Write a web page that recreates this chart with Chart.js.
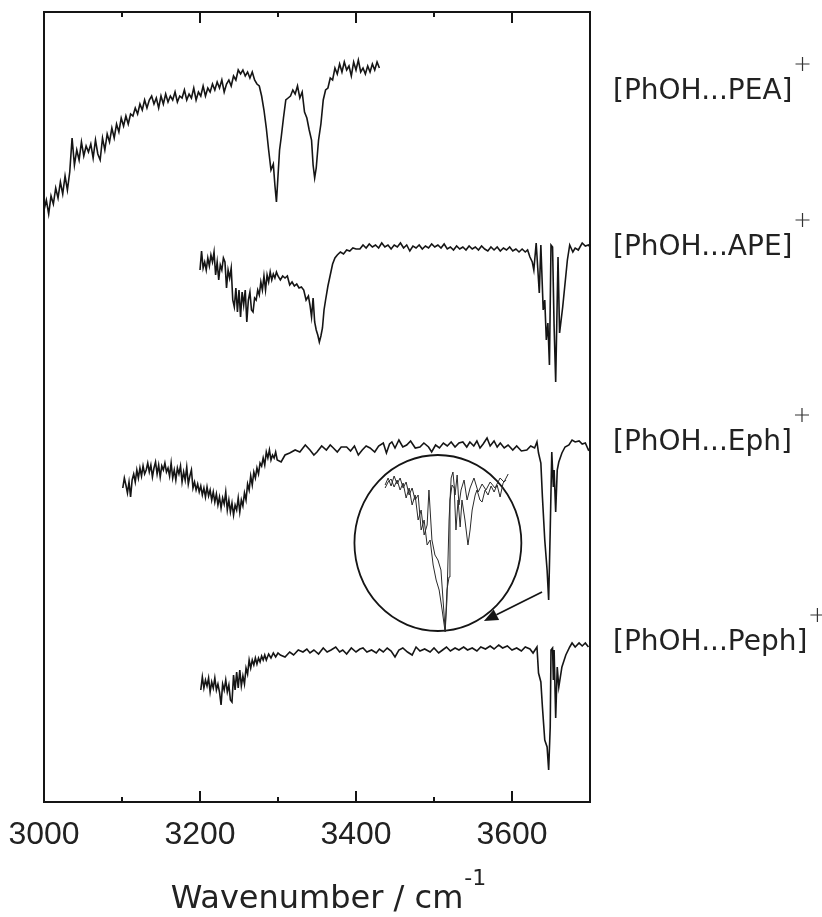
<!DOCTYPE html>
<html>
<head>
<meta charset="utf-8">
<script src="https://cdn.jsdelivr.net/npm/chart.js@4.4.1/dist/chart.umd.min.js"></script>
<style>
  html, body { margin: 0; padding: 0; background: #fff; }
  #wrap { position: relative; width: 822px; height: 917px; }
  #spectra { position: absolute; left: 0; top: 0; }
  #inset { position: absolute; left: 380px; top: 470px; }
</style>
</head>
<body>
<div id="wrap">
  <canvas id="spectra" width="822" height="917"></canvas>
  <canvas id="inset" width="130" height="165"></canvas>
</div>
<script>
// wavenumbers (cm-1) and offset signal (a.u.)
const peaWave = [3000,3003,3006,3009,3012,3015,3018,3021,3024,3027,3030,3033,3036,3039,3042,3045,3048,3051,3054,3057,3060,3063,3066,3069,3072,3075,3078,3081,3084,3087,3090,3093,3096,3099,3102,3105,3108,3111,3114,3117,3120,3123,3126,3129,3132,3135,3138,3141,3144,3147,3150,3153,3156,3159,3162,3165,3168,3171,3174,3177,3180,3183,3186,3189,3192,3195,3198,3201,3204,3207,3210,3213,3216,3219,3222,3225,3228,3231,3234,3237,3240,3243,3246,3249,3252,3255,3258,3261,3264,3267,3270,3273,3276,3279,3282,3285,3288,3291,3294,3296,3298,3300,3302,3304,3307,3310,3313,3316,3319,3322,3325,3328,3331,3334,3337,3340,3343,3345,3347,3349,3352,3355,3358,3361,3364,3367,3370,3373,3376,3379,3382,3385,3388,3391,3394,3397,3400,3403,3406,3409,3412,3415,3418,3421,3424,3427,3430];
const peaSignal = [59.2,60.2,58.8,60.6,59.8,61.4,60.4,62.0,60.8,62.6,61.2,63.0,66.4,63.7,65.2,64.2,66.0,64.6,65.6,65.0,65.8,64.4,66.2,64.8,64.2,66.4,65.2,66.8,66.0,67.4,66.4,67.8,67.0,68.4,67.6,68.6,67.8,68.8,68.6,69.4,68.8,69.8,69.2,70.2,69.4,70.2,70.6,69.8,70.4,69.4,70.6,69.8,70.8,70.0,70.6,70.2,71.0,70.0,70.6,70.4,71.2,70.2,70.8,70.4,71.4,70.2,71.0,70.6,71.6,70.6,71.4,71.0,71.8,71.2,72.0,71.4,72.2,71.0,71.8,72.2,71.6,72.6,72.2,73.2,72.8,73.2,72.6,73.0,72.4,73.0,72.2,71.8,71.6,70.6,69.2,67.4,65.2,63.2,63.8,61.7,60.0,62.6,65.2,66.4,68.4,70.2,70.4,70.6,71.2,70.8,71.6,70.4,71.0,69.0,68.4,67.2,66.2,63.7,62.4,63.4,66.2,67.8,70.2,71.2,71.4,72.4,72.2,73.4,72.8,73.8,73.0,74.0,73.2,73.6,72.6,74.0,73.2,74.2,73.0,73.4,72.8,73.6,73.0,73.8,73.2,74.0,73.4];

const apeWave = [3200,3202,3204,3206,3208,3210,3212,3214,3216,3218,3220,3222,3224,3226,3228,3230,3232,3234,3236,3238,3240,3242,3244,3246,3248,3250,3252,3254,3256,3258,3260,3262,3264,3266,3268,3270,3272,3274,3276,3278,3280,3282,3284,3286,3288,3290,3292,3294,3296,3298,3300,3303,3306,3309,3312,3315,3318,3321,3324,3327,3330,3333,3336,3339,3341,3343,3345,3347,3349,3351,3353,3355,3357,3359,3361,3364,3367,3370,3373,3376,3380,3384,3388,3392,3396,3400,3405,3409,3413,3417,3421,3425,3429,3433,3437,3441,3445,3449,3453,3457,3461,3465,3469,3473,3477,3481,3485,3489,3493,3497,3501,3505,3509,3513,3517,3521,3525,3529,3533,3537,3541,3545,3549,3553,3557,3561,3565,3569,3573,3577,3581,3585,3589,3593,3597,3601,3605,3609,3613,3617,3620,3623,3626,3628,3631,3633,3635,3637,3640,3642,3644,3646,3648,3650,3652,3654,3656,3659,3661,3665,3671,3674,3678,3681,3685,3690,3694,3698,3700];
const apeSignal = [53.2,55.1,53.4,54.0,53.2,54.4,53.6,54.7,54.0,55.0,52.7,54.0,52.2,53.7,53.2,54.4,54.0,51.4,53.2,52.4,53.4,50.2,49.5,51.4,49.0,51.2,48.5,51.0,49.7,51.2,48.0,50.2,51.0,49.2,49.0,50.4,50.2,51.2,50.7,52.0,51.2,52.6,51.2,52.7,52.0,53.0,52.2,52.8,52.4,53.0,52.6,52.2,52.6,52.4,52.6,51.7,52.0,51.6,51.8,51.4,51.5,51.2,50.2,50.6,49.7,48.5,50.4,48.0,47.2,46.7,46.0,46.6,47.4,49.2,50.2,51.6,52.7,53.8,54.4,54.7,55.0,54.8,55.2,55.1,55.4,55.3,55.3,55.7,55.4,55.8,55.5,55.7,55.4,55.9,55.5,55.7,55.3,55.7,55.5,55.9,55.4,55.7,55.1,55.6,55.4,55.7,55.3,55.6,55.4,55.8,55.5,55.7,55.4,55.8,55.3,55.5,55.2,55.6,55.3,55.5,55.2,55.6,55.3,55.5,55.2,55.6,55.3,55.1,55.5,55.2,55.5,55.1,55.4,55.2,55.5,55.1,55.3,55.0,55.3,55.0,55.2,54.5,54.0,53.2,55.9,53.4,50.9,55.7,49.2,50.2,46.2,47.9,43.7,55.7,55.5,47.5,42.0,54.5,46.9,49.5,54.2,55.7,55.0,55.4,55.2,55.9,55.6,55.7,55.5];

const ephWave = [3101,3103,3105,3107,3109,3111,3113,3115,3117,3119,3121,3123,3125,3127,3129,3131,3133,3135,3137,3139,3141,3143,3145,3147,3149,3151,3153,3155,3157,3159,3161,3163,3165,3167,3169,3171,3173,3175,3177,3179,3181,3183,3185,3187,3189,3191,3193,3195,3197,3199,3201,3203,3205,3207,3209,3211,3213,3215,3217,3219,3221,3223,3225,3227,3229,3231,3233,3235,3237,3239,3241,3243,3245,3247,3249,3251,3253,3255,3257,3259,3261,3263,3265,3267,3269,3271,3273,3275,3277,3279,3281,3283,3285,3287,3289,3291,3293,3295,3297,3299,3304,3309,3315,3322,3328,3335,3341,3346,3350,3356,3362,3367,3371,3376,3381,3388,3393,3398,3403,3408,3413,3418,3424,3429,3435,3439,3443,3446,3450,3455,3460,3465,3470,3476,3482,3487,3493,3497,3502,3507,3512,3517,3522,3527,3532,3537,3542,3546,3551,3555,3559,3563,3568,3572,3577,3581,3585,3590,3595,3601,3606,3612,3619,3624,3629,3632,3634,3637,3639,3642,3645,3647,3649,3651,3653,3654,3656,3658,3660,3664,3668,3673,3677,3681,3686,3690,3694,3698,3700];
const ephSignal = [31.4,32.4,31.7,30.9,32.0,30.5,32.2,32.8,32.0,33.2,32.4,33.4,32.6,33.6,32.8,33.2,33.9,33.0,33.7,32.5,33.4,34.0,32.8,33.7,32.5,33.6,33.2,33.9,33.0,33.4,32.6,33.9,32.4,33.2,32.2,33.4,32.8,33.6,32.0,33.0,32.2,33.5,31.8,32.6,33.2,31.4,32.0,31.2,31.8,31.0,31.6,30.7,31.4,30.5,31.5,30.6,31.2,30.2,31.0,30.0,30.8,29.7,30.5,29.4,30.4,29.8,31.0,29.2,30.2,29.0,29.9,28.7,29.7,29.2,30.4,29.0,30.2,29.6,30.9,30.2,31.8,31.2,32.6,31.7,33.0,32.4,33.4,32.8,33.9,33.6,34.4,33.7,35.0,34.4,35.2,34.2,34.7,34.4,35.0,34.2,34.0,34.7,34.9,35.2,35.0,35.7,35.2,34.7,35.0,35.6,35.2,35.7,35.4,35.0,35.5,35.5,35.1,35.6,34.7,35.2,35.6,35.4,35.0,35.6,35.9,34.9,35.8,36.0,35.4,36.2,35.5,35.7,36.1,35.4,35.5,35.9,35.5,35.0,35.7,35.4,35.9,35.6,36.0,35.5,35.9,36.0,35.5,36.0,35.6,36.1,35.4,35.8,36.4,35.6,36.1,35.5,35.9,35.4,35.7,35.2,35.6,35.1,35.2,35.6,35.4,36.0,34.9,33.9,30.5,26.2,23.2,20.2,27.2,35.0,31.5,33.2,29.0,33.2,34.0,34.9,35.5,35.7,36.2,36.0,36.1,35.8,35.9,35.2,35.3];

const pephWave = [3201,3203,3205,3207,3209,3211,3213,3215,3217,3219,3221,3223,3225,3227,3229,3231,3233,3235,3237,3239,3241,3243,3245,3247,3249,3251,3253,3255,3257,3259,3261,3263,3265,3267,3269,3271,3273,3275,3277,3279,3281,3283,3285,3288,3291,3294,3297,3300,3303,3309,3315,3320,3326,3332,3337,3341,3346,3352,3358,3363,3368,3374,3379,3383,3388,3394,3400,3405,3409,3414,3420,3426,3430,3435,3440,3445,3450,3455,3460,3466,3472,3477,3482,3488,3495,3500,3506,3511,3516,3521,3527,3532,3538,3543,3549,3555,3560,3566,3572,3577,3583,3588,3594,3600,3606,3612,3617,3623,3627,3632,3634,3637,3639,3642,3645,3647,3649,3650,3652,3653,3654,3656,3658,3660,3664,3669,3674,3677,3681,3686,3690,3694,3698];
const pephSignal = [11.2,12.5,11.4,12.2,11.6,12.4,11.0,12.0,11.4,12.4,11.2,11.8,11.0,9.7,11.8,11.2,12.2,11.0,11.7,10.2,10.0,12.7,11.2,13.0,11.4,13.2,11.6,12.6,11.8,13.4,12.8,14.2,13.4,14.2,13.7,14.4,13.8,14.4,14.0,14.6,14.2,14.7,14.2,14.8,14.4,14.9,14.5,14.9,14.7,14.5,15.0,14.7,15.2,15.0,15.3,14.9,15.2,14.8,15.4,15.0,15.2,15.5,15.0,15.2,14.8,15.4,15.0,15.3,15.4,15.0,15.2,14.9,15.3,15.0,15.4,15.1,14.5,15.2,15.4,15.0,14.7,15.5,15.1,15.3,15.0,15.4,14.9,15.2,15.5,15.1,15.4,15.2,15.5,15.2,15.4,15.1,15.5,15.3,15.6,15.3,15.7,15.4,15.6,15.2,15.4,15.1,15.5,15.3,14.9,15.5,12.9,12.0,9.5,6.2,5.5,3.2,7.5,15.2,15.4,12.2,15.2,8.4,13.5,11.5,13.5,14.7,15.5,15.9,15.5,15.9,15.6,15.9,15.5];

// magnified view of the free OH band (two overlaid traces)
const insetWaveA = [3631.7,3632.7,3633.7,3634.7,3635.7,3636.7,3637.7,3638.7,3639.7,3640.7,3641.7,3642.7,3643.7,3644.7,3645.7,3646.7,3647.7,3648.7,3649.7,3650.7,3651.7,3652.3,3653.0,3653.7,3654.3,3655.0,3655.7,3656.3,3657.0,3658.0,3659.0,3660.0,3661.3,3662.7,3664.0,3665.3,3666.7,3668.3,3670.0,3671.3,3672.7];
const insetSignalA = [150,157,149,159,151,157,147,153,140,147,135,140,105,115,90,95,70,55,45,25,3,35,115,157,163,140,160,130,145,155,135,147,157,143,151,145,153,147,157,153,161];
const insetWaveB = [3631.7,3632.7,3633.7,3634.7,3635.7,3636.7,3637.7,3638.7,3639.7,3640.7,3641.7,3642.7,3643.7,3644.7,3645.7,3646.3,3647.3,3648.3,3649.3,3650.3,3651.0,3651.7,3652.3,3653.0,3653.3,3654.0,3654.7,3655.3,3656.0,3656.7,3657.3,3658.3,3659.3,3660.0,3660.7,3661.7,3662.3,3663.3,3664.0,3665.0,3666.0,3667.0,3668.0,3669.0,3670.0,3671.0,3672.0];
const insetSignalB = [147,153,156,148,155,145,152,137,147,130,140,115,125,100,110,145,95,80,75,65,35,5,45,58,135,150,147,105,135,108,135,115,90,105,125,140,145,135,133,145,140,149,143,150,138,152,155];

const seriesLabels = ['[PhOH...PEA]', '[PhOH...APE]', '[PhOH...Eph]', '[PhOH...Peph]'];
const labelLevels = [70.3, 54.7, 35.2, 15.2];
const majorTicks = [3200, 3400, 3600];
const minorTicks = [3100, 3300, 3500];

// circle round the magnified region and the arrow pointing to the band
const circleCentre = { x: 3505, y: 25.9, rx: 107, ry: 8.8 };
const arrowFrom = { x: 3638.5, y: 21.0 };
const arrowTo = { x: 3564, y: 18.1 };

const ink = '#151515';
const toPoints = (xs, ys) => xs.map((x, i) => ({ x: x, y: ys[i] }));

function trace(xs, ys) {
  return {
    data: toPoints(xs, ys),
    borderColor: ink,
    borderWidth: 1.6,
    pointRadius: 0,
    tension: 0,
    fill: false
  };
}

const framePlugin = {
  id: 'frame',
  afterDraw(chart) {
    const { ctx, chartArea: a, scales: { x, y } } = chart;
    ctx.save();
    ctx.strokeStyle = ink;
    ctx.lineWidth = 2;
    ctx.strokeRect(a.left, a.top, a.right - a.left, a.bottom - a.top);

    // inward ticks on top and bottom
    const tick = (v, len) => {
      const px = Math.round(x.getPixelForValue(v));
      ctx.beginPath();
      ctx.moveTo(px, a.bottom); ctx.lineTo(px, a.bottom - len);
      ctx.moveTo(px, a.top); ctx.lineTo(px, a.top + len);
      ctx.stroke();
    };
    majorTicks.forEach(v => tick(v, 11));
    minorTicks.forEach(v => tick(v, 5));

    // circle
    const cx = x.getPixelForValue(circleCentre.x);
    const cy = y.getPixelForValue(circleCentre.y);
    const rx = x.getPixelForValue(circleCentre.x + circleCentre.rx) - cx;
    const ry = y.getPixelForValue(circleCentre.y - circleCentre.ry) - cy;
    ctx.lineWidth = 1.8;
    ctx.beginPath();
    ctx.ellipse(cx, cy, rx, ry, 0, 0, Math.PI * 2);
    ctx.stroke();

    // arrow
    const x0 = x.getPixelForValue(arrowFrom.x), y0 = y.getPixelForValue(arrowFrom.y);
    const x1 = x.getPixelForValue(arrowTo.x), y1 = y.getPixelForValue(arrowTo.y);
    const ang = Math.atan2(y1 - y0, x1 - x0);
    const headLen = 14, headW = 6;
    const bx = x1 - headLen * Math.cos(ang), by = y1 - headLen * Math.sin(ang);
    ctx.beginPath();
    ctx.moveTo(x0, y0); ctx.lineTo(bx, by);
    ctx.stroke();
    ctx.fillStyle = ink;
    ctx.beginPath();
    ctx.moveTo(x1, y1);
    ctx.lineTo(bx + headW * Math.sin(ang), by - headW * Math.cos(ang));
    ctx.lineTo(bx - headW * Math.sin(ang), by + headW * Math.cos(ang));
    ctx.closePath();
    ctx.fill();

    // series labels with a thin superscript +
    ctx.fillStyle = '#222';
    ctx.textAlign = 'left';
    ctx.textBaseline = 'alphabetic';
    ctx.font = '28px "DejaVu Sans"';
    seriesLabels.forEach((txt, i) => {
      const ly = y.getPixelForValue(labelLevels[i]);
      const lx = a.right + 23;
      ctx.fillText(txt, lx, ly);
      const px = lx + ctx.measureText(txt).width + 10;
      const py = ly - 35;
      ctx.lineWidth = 1.2;
      ctx.strokeStyle = '#333';
      ctx.beginPath();
      ctx.moveTo(px - 7, py); ctx.lineTo(px + 7, py);
      ctx.moveTo(px, py - 7); ctx.lineTo(px, py + 7);
      ctx.stroke();
    });

    // axis title with superscript
    const mid = (a.left + a.right) / 2;
    ctx.font = '32px "DejaVu Sans"';
    ctx.textAlign = 'center';
    const title = 'Wavenumber / cm';
    ctx.fillText(title, mid, a.bottom + 106);
    const tw = ctx.measureText(title).width;
    ctx.font = '22px "DejaVu Sans"';
    ctx.textAlign = 'left';
    ctx.fillText('-1', mid + tw / 2 + 1, a.bottom + 83);
    ctx.restore();
  }
};

new Chart(document.getElementById('spectra'), {
  type: 'line',
  data: {
    datasets: [
      trace(peaWave, peaSignal),
      trace(apeWave, apeSignal),
      trace(ephWave, ephSignal),
      trace(pephWave, pephSignal)
    ]
  },
  options: {
    responsive: false,
    animation: false,
    layout: { padding: { left: 44, top: 12, right: 232, bottom: 0 } },
    plugins: { legend: { display: false }, tooltip: { enabled: false } },
    scales: {
      x: {
        type: 'linear',
        min: 3000,
        max: 3700,
        grid: { display: false, drawTicks: false },
        border: { display: false },
        ticks: {
          stepSize: 100,
          autoSkip: false,
          maxRotation: 0,
          padding: 14,
          color: '#222',
          font: { family: '"Liberation Sans", Arial, sans-serif', size: 32 },
          callback: v => (v % 200 === 0 ? String(v) : '')
        },
        afterFit: s => { s.height = 115; s.paddingLeft = 0; s.paddingRight = 0; }
      },
      y: { display: false, min: 0, max: 79 }
    }
  },
  plugins: [framePlugin]
});

new Chart(document.getElementById('inset'), {
  type: 'line',
  data: {
    datasets: [
      { data: toPoints(insetWaveA, insetSignalA), borderColor: '#2a2a2a', borderWidth: 1, pointRadius: 0, tension: 0, clip: false },
      { data: toPoints(insetWaveB, insetSignalB), borderColor: '#2a2a2a', borderWidth: 1, pointRadius: 0, tension: 0, clip: false }
    ]
  },
  options: {
    responsive: false,
    animation: false,
    layout: { padding: 0 },
    plugins: { legend: { display: false }, tooltip: { enabled: false } },
    scales: {
      x: { type: 'linear', display: false, min: 3630, max: 3673.3 },
      y: { display: false, min: 0, max: 165 }
    }
  }
});
</script>
</body>
</html>
